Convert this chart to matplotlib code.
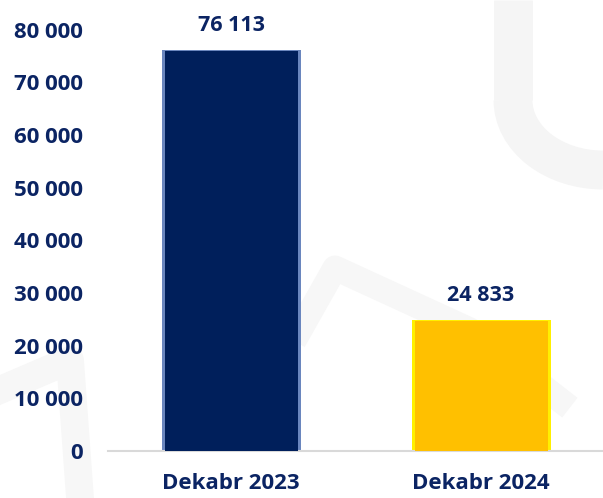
import numpy as np
import matplotlib.pyplot as plt
from matplotlib.patches import Arc
from matplotlib.lines import Line2D

# data
categories = ['Dekabr 2023', 'Dekabr 2024']
values = [76113, 24833]
bar_colors = ['#001F5B', '#FFC000']
edge_colors = ['#6A86BE', '#FFF000']
yticks = [0, 10000, 20000, 30000, 40000, 50000, 60000, 70000, 80000]

navy = '#0B2463'
plt.rcParams['font.family'] = ['Open Sans', 'DejaVu Sans']

fig = plt.figure(figsize=(6.03, 4.98), dpi=100)

# faint watermark shapes in the background
bg = fig.add_axes([0, 0, 1, 1], zorder=0)
bg.set_xlim(0, 603)
bg.set_ylim(498, 0)
bg.axis('off')
wm = '#F5F5F5'
bg.add_line(Line2D([513, 513], [0, 100], color=wm, lw=28, solid_capstyle='butt'))
bg.add_patch(Arc((603, 100), 180, 140, theta1=90, theta2=180, color=wm, lw=28))
bg.add_patch(Arc((230, -60), 260, 180, theta1=180, theta2=360, color='#F7F7F7', lw=12))
bg.add_line(Line2D([300, 335, 470, 560], [330, 268, 330, 400], color='#F7F7F7', lw=18))
bg.add_line(Line2D([0, 70, 80], [390, 360, 498], color='#F7F7F7', lw=20))

ax = fig.add_axes([108 / 603, 1 - 451 / 498, 1 - 108 / 603, (451 - 29.5) / 498], zorder=1)
ax.patch.set_alpha(0)

x = np.arange(len(categories))
width = 0.556
# outer bar gives the light bevelled rim, inner bar the main face
ax.bar(x, values, width=width, color=edge_colors, zorder=2)
ax.bar(x, np.array(values) * 0.997, width=width - 0.024, color=bar_colors, zorder=3)

for xi, v in zip(x, values):
    ax.annotate(f'{v:,}'.replace(',', ' '), (xi, v), xytext=(0, 10), textcoords='offset points',
                ha='center', va='bottom', fontsize=15.5, fontweight='bold', color=navy)

ax.set_xlim(-0.492, 1.488)
ax.set_ylim(0, 80000)
ax.set_yticks(yticks)
ax.set_yticklabels([f'{t:,}'.replace(',', ' ') for t in yticks])
ax.set_xticks(x)
ax.set_xticklabels(categories)
ax.tick_params(axis='both', length=0, labelsize=16, labelcolor=navy)
ax.tick_params(axis='x', pad=16)
ax.tick_params(axis='y', pad=18)
for lbl in ax.get_xticklabels() + ax.get_yticklabels():
    lbl.set_fontweight('bold')

for s in ['top', 'right', 'left']:
    ax.spines[s].set_visible(False)
ax.spines['bottom'].set_color('#D9D9D9')
ax.spines['bottom'].set_linewidth(1.5)

fig.savefig('out.png', dpi=100)
